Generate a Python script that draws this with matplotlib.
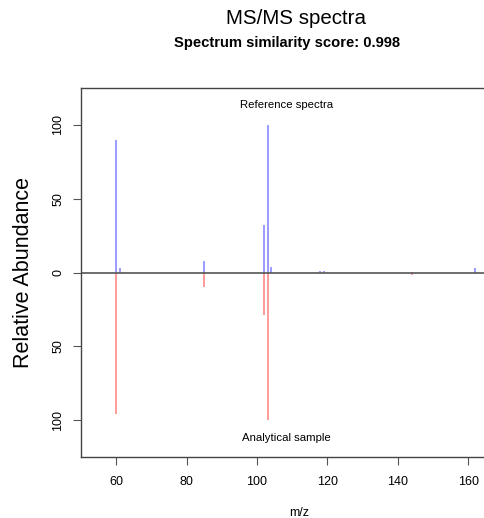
import matplotlib
matplotlib.use('Agg')
import matplotlib.pyplot as plt

# Peaks (m/z, relative abundance)
ref_mz = [60, 61, 85, 102, 103, 104, 118, 119, 144, 162]
ref_int = [90, 3, 8, 32, 100, 4, 1, 1, 0.5, 3]
sample_mz = [60, 85, 102, 103, 144]
sample_int = [96, 10, 28.5, 100, 1.5]

xticks = [60, 80, 100, 120, 140, 160]
yticks = [-100, -50, 0, 50, 100]
ytick_labels = ['100', '50', '0', '50', '100']

score = 0.998

plt.rcParams['font.family'] = ['Liberation Sans', 'DejaVu Sans']

fig = plt.figure(figsize=(4.84, 5.18), dpi=100)
ax = fig.add_axes([81/484, 61/518, 436/484, 369/518])

ax.vlines(ref_mz, 0, ref_int, color='#8080ff', lw=1.1)
ax.vlines(sample_mz, 0, [-v for v in sample_int], color='#ff8080', lw=1.1)
ax.axhline(0, color='#555555', lw=1.2)

ax.set_xlim(50, 173.9)
ax.set_ylim(-125, 125)

ax.set_xticks(xticks)
ax.set_yticks(yticks)
ax.set_yticklabels(ytick_labels, rotation=90, va='center')
ax.tick_params(axis='x', labelsize=9, length=6, color='#555555', pad=8)
ax.tick_params(axis='y', labelsize=9, length=6, color='#555555', pad=6)

for s in ax.spines.values():
    s.set_color('#444444')
    s.set_linewidth(1.0)

ax.text(108.3, 113.8, 'Reference spectra', ha='center', va='center', fontsize=8.2)
ax.text(108.3, -112, 'Analytical sample', ha='center', va='center', fontsize=8.2)

ax.set_xlabel('m/z', fontsize=9, labelpad=13)
ax.set_ylabel('Relative Abundance', fontsize=15.5, labelpad=13)

fig.text(296/484, 1 - 19/518, 'MS/MS spectra', ha='center', va='center', fontsize=14.8)
fig.text(287/484, 1 - 43/518, 'Spectrum similarity score: ' + str(score),
         ha='center', va='center', fontsize=10.6, fontweight='bold')

fig.savefig('out.png', dpi=100)
